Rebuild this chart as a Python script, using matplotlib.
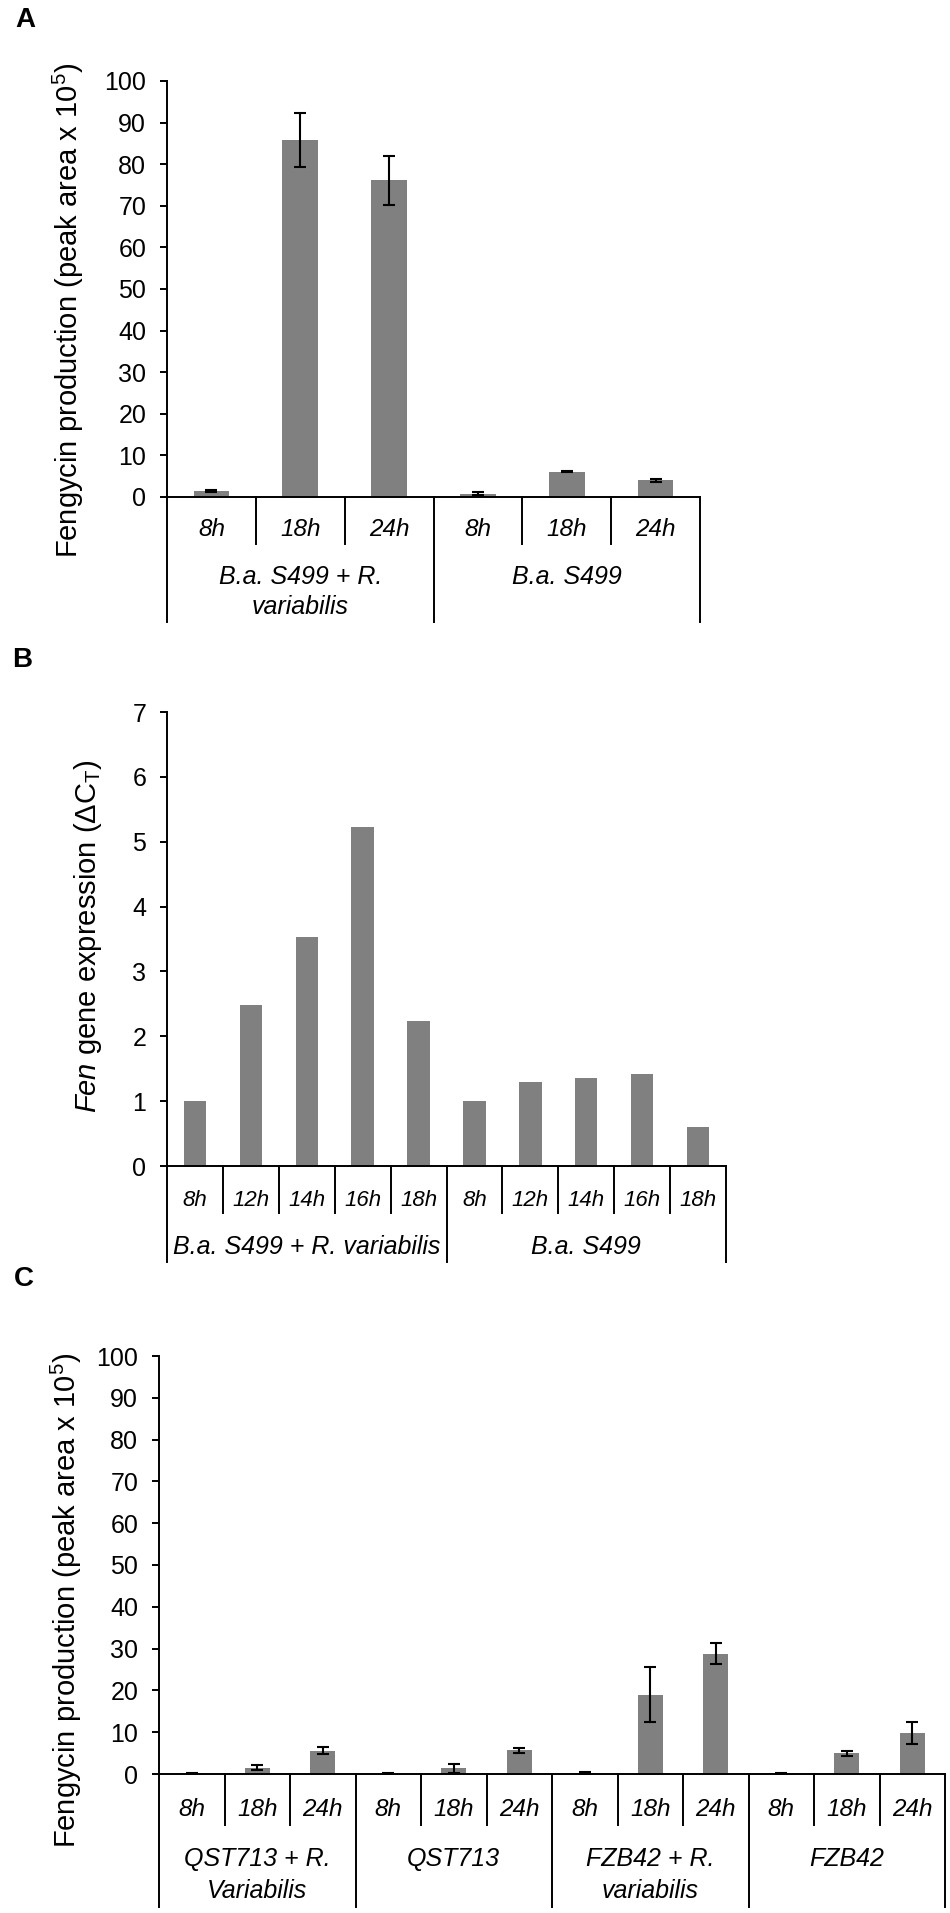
import matplotlib.pyplot as plt
from matplotlib.transforms import blended_transform_factory

plt.rcParams['font.family'] = ['Liberation Sans', 'DejaVu Sans']
plt.rcParams['mathtext.fontset'] = 'custom'
plt.rcParams['mathtext.rm'] = 'Liberation Sans'
plt.rcParams['mathtext.it'] = 'Liberation Sans:italic'

W, H = 950, 1913

# Panel A - fengycin production, S499 with / without R. variabilis
a_times = ['8h', '18h', '24h', '8h', '18h', '24h']
a_groups = ['B.a. S499 + R.\nvariabilis', 'B.a. S499']
a_sizes = [3, 3]
a_means = [1.4, 85.8, 76.1, 0.8, 6.1, 4.0]
a_errs = [0.3, 6.5, 5.8, 0.3, 0.2, 0.3]

# Panel B - Fen gene expression
b_times = ['8h', '12h', '14h', '16h', '18h', '8h', '12h', '14h', '16h', '18h']
b_groups = ['B.a. S499 + R. variabilis', 'B.a. S499']
b_sizes = [5, 5]
b_vals = [1.0, 2.49, 3.53, 5.23, 2.23, 1.0, 1.29, 1.36, 1.42, 0.6]

# Panel C - fengycin production, QST713 and FZB42
c_times = ['8h', '18h', '24h'] * 4
c_groups = ['QST713 + R.\nVariabilis', 'QST713', 'FZB42 + R.\nvariabilis', 'FZB42']
c_sizes = [3, 3, 3, 3]
c_means = [0.2, 1.5, 5.6, 0.1, 1.4, 5.7, 0.3, 19.0, 28.8, 0.2, 5.0, 9.8]
c_errs = [0.1, 0.6, 0.8, 0.1, 1.1, 0.6, 0.2, 6.6, 2.6, 0.1, 0.6, 2.6]

fig = plt.figure(figsize=(W / 100, H / 100), dpi=100)


def fy(py):
    return 1 - py / H


def make_axes(left, right, top, bottom):
    return fig.add_axes([left / W, fy(bottom), (right - left) / W, (bottom - top) / H])


def draw_panel(ax, vals, errs, times, groups, sizes, ymax, ystep, ylabel, lab_xy,
               base, short_end, time_y, group_ys, long_end, width=0.4, fs_t=17.5, fs_g=18):
    n = len(vals)
    x = list(range(n))
    ax.bar(x, vals, width=width, color='#808080', zorder=2)
    if errs is not None:
        ax.errorbar(x, vals, yerr=errs, fmt='none', ecolor='black',
                    elinewidth=1.5, capsize=4.5, capthick=1.5, zorder=3)
    ax.set_xlim(-0.5, n - 0.5)
    ax.set_ylim(0, ymax)
    ax.set_yticks([i * ystep for i in range(int(round(ymax / ystep)) + 1)])
    ax.set_xticks([])
    for s in ['top', 'right']:
        ax.spines[s].set_visible(False)
    for s in ['left', 'bottom']:
        ax.spines[s].set_linewidth(1.4)
    ax.tick_params(axis='y', direction='out', length=5, width=1.4, labelsize=18, pad=10)
    ax.set_ylabel(ylabel, fontsize=21)
    ax.yaxis.label.set_verticalalignment('center')
    ax.yaxis.set_label_coords(lab_xy[0] / W, fy(lab_xy[1]), transform=fig.transFigure)

    trans = blended_transform_factory(ax.transData, fig.transFigure)
    bounds = [-0.5]
    for sz in sizes:
        bounds.append(bounds[-1] + sz)
    for i in range(n - 1):
        xd = i + 0.5
        if xd in bounds:
            continue
        ax.plot([xd, xd], [fy(base), fy(short_end)], transform=trans,
                color='black', lw=1.4, clip_on=False)
    for xd in bounds:
        ax.plot([xd, xd], [fy(base), fy(long_end)], transform=trans,
                color='black', lw=1.4, clip_on=False)
    for i, t in enumerate(times):
        ax.text(i, fy(time_y), t, transform=trans, ha='center', va='center',
                fontsize=fs_t, style='italic')
    for g, label in enumerate(groups):
        xc = (bounds[g] + bounds[g + 1]) / 2
        for k, line in enumerate(label.split('\n')):
            ax.text(xc, fy(group_ys[k]), line, transform=trans, ha='center',
                    va='center', fontsize=fs_g, style='italic')


fy_label = 'Fengycin production (peak area x 10$^5$)'

axA = make_axes(167, 700, 81, 497)
draw_panel(axA, a_means, a_errs, a_times, a_groups, a_sizes, 100, 10, fy_label, (68, 310),
           497, 544, 530, [577, 607], 622)

axB = make_axes(167, 726, 712, 1166)
draw_panel(axB, b_vals, None, b_times, b_groups, b_sizes, 7, 1,
           r'$\it{Fen}$ gene expression (ΔC$_\mathregular{T}$)', (88, 936),
           1166, 1213, 1200, [1247], 1262, fs_t=16, fs_g=18)

axC = make_axes(159, 945, 1356, 1774)
draw_panel(axC, c_means, c_errs, c_times, c_groups, c_sizes, 100, 10, fy_label, (66, 1600),
           1774, 1825, 1810, [1859, 1891], 1907, width=0.38)

for letter, px, py in [('A', 25, 20), ('B', 22, 660), ('C', 24, 1279)]:
    fig.text(px / W, fy(py), letter, fontsize=20, fontweight='bold', ha='center', va='center')

fig.savefig('out.png', dpi=100)
